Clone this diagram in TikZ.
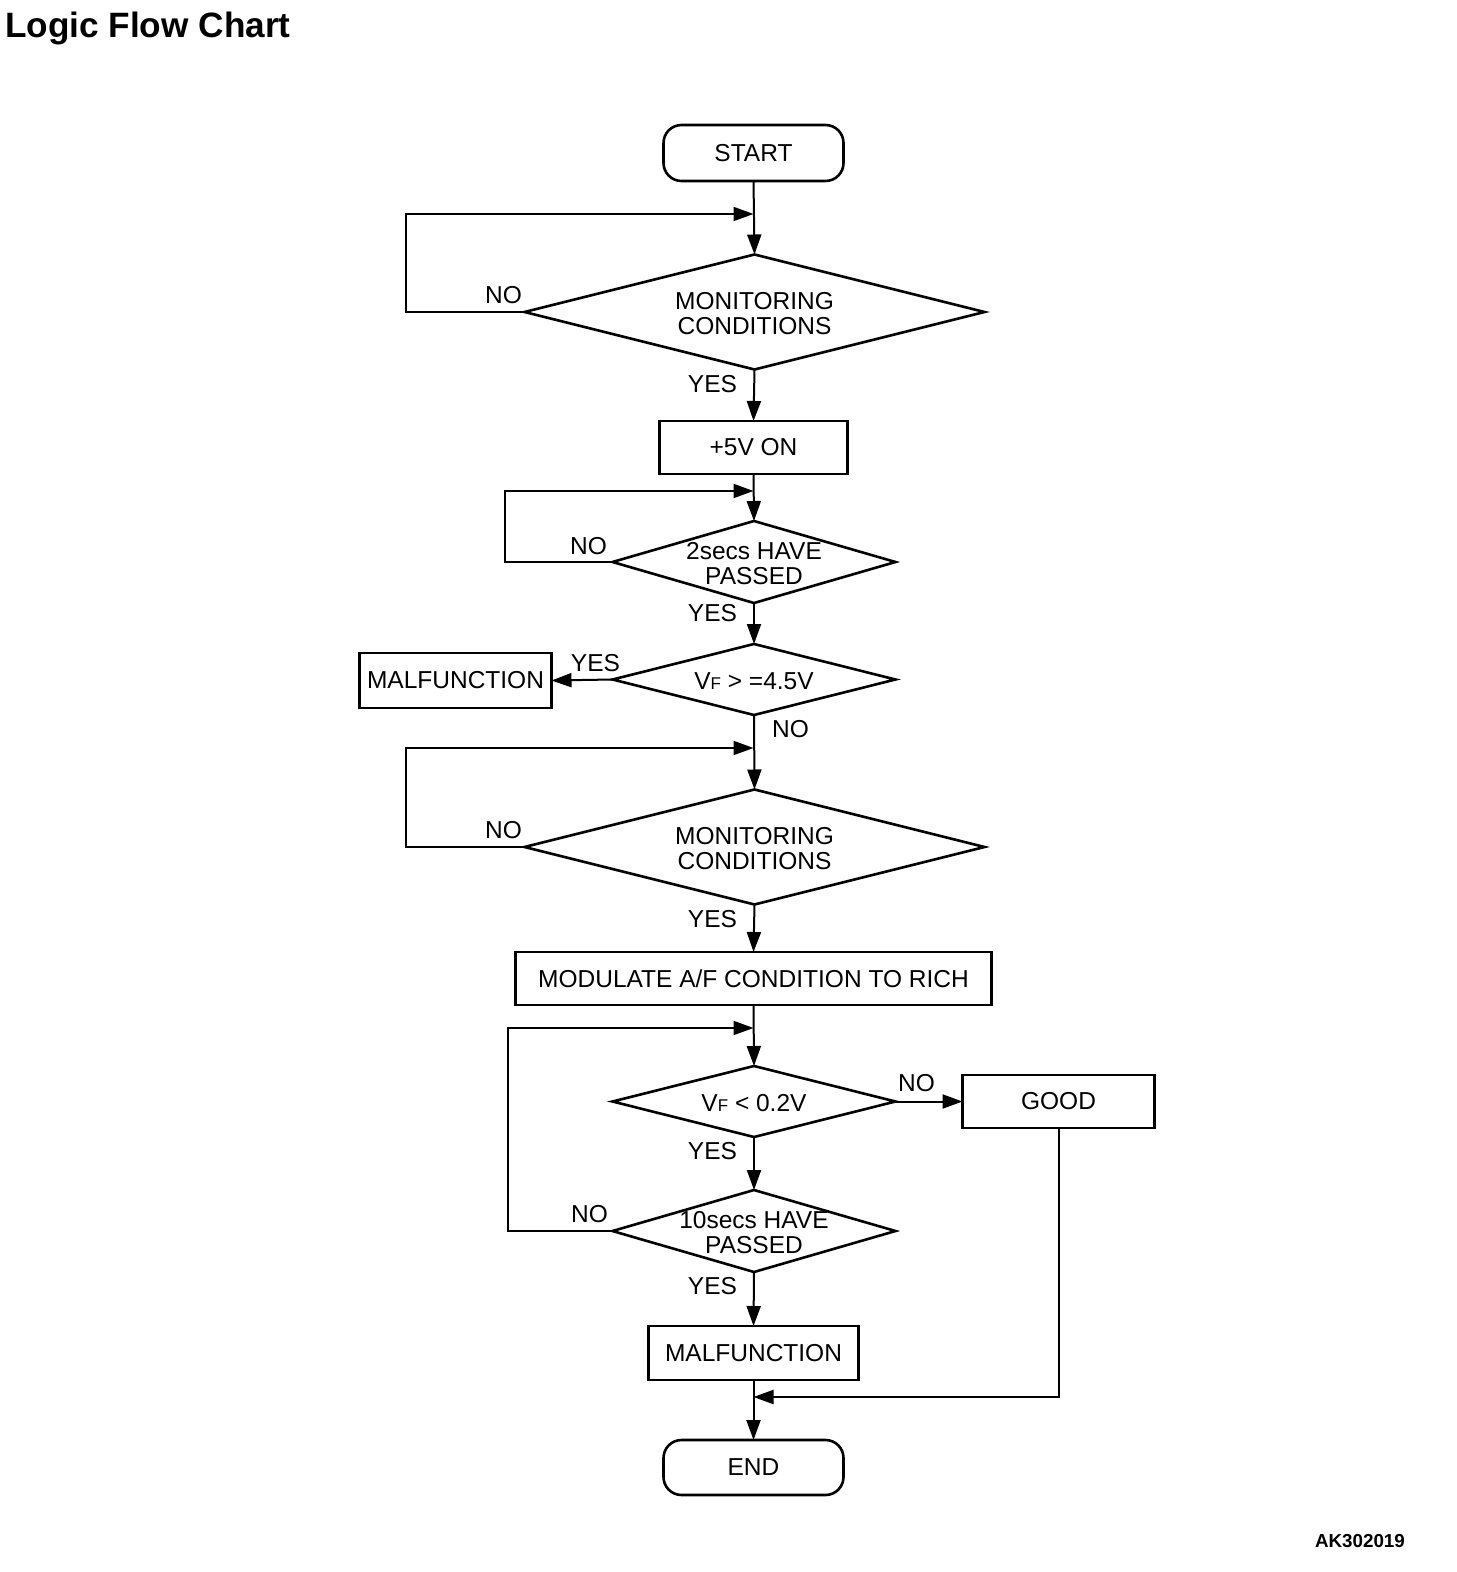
\documentclass[tikz,border=0pt]{standalone}
\usepackage{fontspec}
\setmainfont{Liberation Sans}
\usetikzlibrary{shapes.geometric,arrows.meta}
\newcommand\dlab[1]{\makebox[0pt]{\smash{\raisebox{\dimexpr0.5\depth-0.5\height-2.5pt\relax}{\begin{tabular}{@{}c@{}}#1\end{tabular}}}}}
\newcommand\vsub[1]{{\fontsize{8.5}{8.5}\selectfont #1}}
\begin{document}
\begin{tikzpicture}[x=0.5pt,y=-0.5pt,
  every node/.style={font=\fontsize{12.25}{12.5}\selectfont, inner sep=0pt, outer sep=0pt},
  shp/.style={draw, line width=1.3pt},
  dia/.style={shp, diamond},
  boxr/.style={shp, rectangle},
  term/.style={shp, rectangle, rounded corners=9pt, minimum width=90pt},
  conn/.style={line width=1pt},
  arr/.style={conn, -{Triangle[length=10pt,width=7pt]}},
  lab/.style={font=\fontsize{12.25}{12.5}\selectfont}
]
\useasboundingbox (0,0) rectangle (1456,1572);
\node[anchor=base west, font=\fontsize{17.6}{18}\selectfont\bfseries] (title) at (5,38) {Logic Flow Chart};
\node[anchor=base west, font=\fontsize{9.4}{10}\selectfont\bfseries] (code) at (1315,1547) {AK302019};

\begin{scope}[shift={(2.5,2)}]
\node[term, minimum height=28pt] (start) at (751,151) {START};
\node[dia, minimum width=230pt, minimum height=57.5pt] (d1) at (752,310) {\dlab{MONITORING\\CONDITIONS}};
\node[boxr, minimum width=94pt, minimum height=26.5pt] (v5) at (751,445.5) {+5V ON};
\node[dia, minimum width=141.5pt, minimum height=41pt] (d2) at (751.5,560) {\dlab{2secs HAVE\\PASSED}};
\node[dia, minimum width=141.5pt, minimum height=35.5pt] (d3) at (751.5,677.5) {\dlab{V\vsub{F} > =4.5V}};
\node[boxr, minimum width=96pt, minimum height=27.5pt] (m1) at (453,678.5) {MALFUNCTION};
\node[dia, minimum width=230pt, minimum height=57.5pt] (d4) at (752,845) {\dlab{MONITORING\\CONDITIONS}};
\node[boxr, minimum width=238pt, minimum height=26.5pt] (mod) at (751,976.5) {MODULATE A/F CONDITION TO RICH};
\node[dia, minimum width=141.5pt, minimum height=35.5pt] (d5) at (751.5,1099.5) {\dlab{V\vsub{F} < 0.2V}};
\node[boxr, minimum width=96pt, minimum height=26.5pt] (good) at (1056,1099.5) {GOOD};
\node[dia, minimum width=141.5pt, minimum height=41pt] (d6) at (751.5,1229) {\dlab{10secs HAVE\\PASSED}};
\node[boxr, minimum width=105pt, minimum height=27pt] (m2) at (751,1351) {MALFUNCTION};
\node[term, minimum height=27.5pt] (end) at (751,1465.5) {END};

\coordinate (j1) at (751,212);
\coordinate (l1) at (403,212);
\coordinate (j2) at (751,489);
\coordinate (l2) at (502,489);
\coordinate (j3) at (751,746);
\coordinate (l3) at (403,746);
\coordinate (j4) at (751,1026);
\coordinate (l4) at (505,1026);
\coordinate (j5) at (751,1395);

\draw[arr] (start.south) -- (d1.north);
\draw[arr] (d1.west) -| (l1) -- (j1);
\draw[arr] (d1.south) -- (v5.north);
\draw[arr] (v5.south) -- (d2.north);
\draw[arr] (d2.west) -| (l2) -- (j2);
\draw[arr] (d2.south) -- (d3.north);
\draw[arr] (d3.west) -- (m1.east);
\draw[arr] (d3.south) -- (d4.north);
\draw[arr] (d4.west) -| (l3) -- (j3);
\draw[arr] (d4.south) -- (mod.north);
\draw[arr] (mod.south) -- (d5.north);
\draw[arr] (d5.east) -- (good.west);
\draw[arr] (d5.south) -- (d6.north);
\draw[arr] (d6.west) -| (l4) -- (j4);
\draw[arr] (d6.south) -- (m2.north);
\draw[arr] (m2.south) -- (end.north);
\draw[arr] (good.south) |- (j5);

\node[lab] (n1) at (501,293) {NO};
\node[lab] (y1) at (710,382) {YES};
\node[lab] (n2) at (586,544) {NO};
\node[lab] (y2) at (710,611) {YES};
\node[lab] (y3) at (593,661) {YES};
\node[lab] (n3) at (788,727) {NO};
\node[lab] (n4) at (501,828) {NO};
\node[lab] (y4) at (710,917) {YES};
\node[lab] (n5) at (914,1081) {NO};
\node[lab] (y5) at (710,1149) {YES};
\node[lab] (n6) at (587,1212) {NO};
\node[lab] (y6) at (710,1284) {YES};
\end{scope}
\end{tikzpicture}
\end{document}
